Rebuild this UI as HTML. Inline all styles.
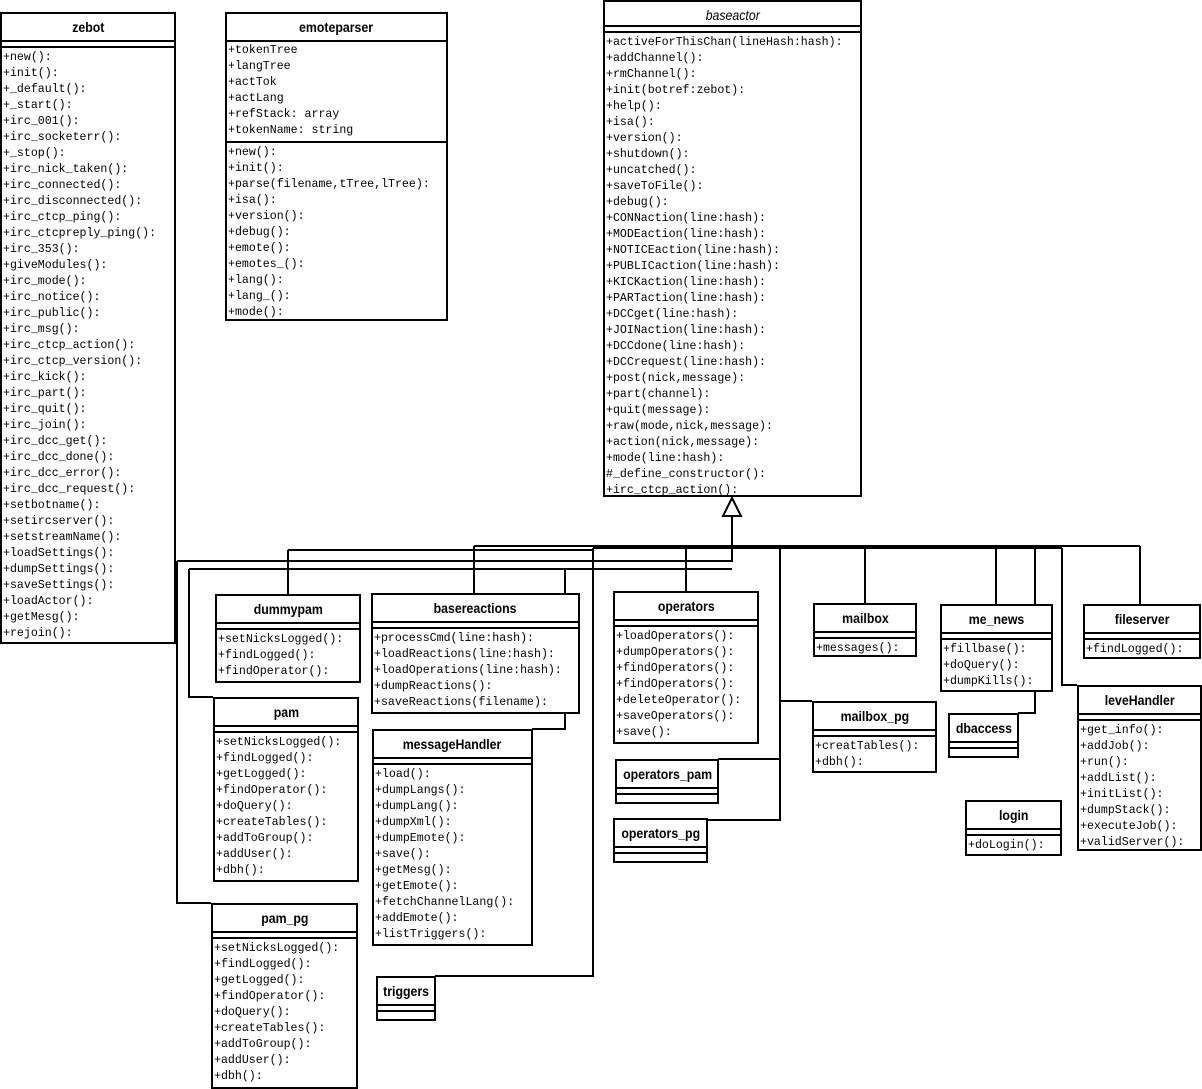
<!DOCTYPE html>
<html><head><meta charset="utf-8"><style>
body{margin:0;width:1202px;height:1087px;background:#fff;position:relative;overflow:hidden}
svg{position:absolute;left:0;top:0}
.b{position:absolute;border:2px solid #000;background:#fff;box-sizing:border-box}
.h{height:26px;text-align:center;font:bold 14px "Liberation Sans Narrow","Liberation Sans",sans-serif;line-height:27px;border-bottom:2px solid #000;white-space:nowrap}
.h span{display:inline-block;transform:scaleX(0.88)}
.h.i{font-style:italic;font-weight:normal}
.e{height:4px;border-bottom:2px solid #000}
.m{font:11.6px "Liberation Mono",monospace;line-height:16px;padding:2px 0 0 1px;white-space:pre}
.a{font:11.6px "Liberation Mono",monospace;line-height:16px;padding:1px 0 2px 1px;white-space:pre;border-bottom:2px solid #000}
</style></head><body>
<svg width="1202" height="1087" fill="none" stroke="#000" stroke-width="2">
<path d="M732 516V548"/>
<path d="M593 548H1062M474 546H1140M288 550H593"/>
<path d="M288 550V594M474 546V593"/>
<path d="M177 561H732V548M177 561V903H211"/>
<path d="M189 569H732M189 569V697H213"/>
<path d="M565 569V729H532"/>
<path d="M593 548V976H435"/>
<path d="M686 548V591"/>
<path d="M780 548V820H707M780 759H718M780 701H812"/>
<path d="M865 548V603M996 548V604M1140 546V604"/>
<path d="M1035 548V713H1018M1062 548V685H1077"/>
<polygon points="732,498 723,516 741,516" fill="#fff"/>
</svg>

<div class="b" style="left:0;top:12px;width:176px;height:632px"><div class="h"><span>zebot</span></div><div class="e"></div><div class="m">+new():
+init():
+_default():
+_start():
+irc_001():
+irc_socketerr():
+_stop():
+irc_nick_taken():
+irc_connected():
+irc_disconnected():
+irc_ctcp_ping():
+irc_ctcpreply_ping():
+irc_353():
+giveModules():
+irc_mode():
+irc_notice():
+irc_public():
+irc_msg():
+irc_ctcp_action():
+irc_ctcp_version():
+irc_kick():
+irc_part():
+irc_quit():
+irc_join():
+irc_dcc_get():
+irc_dcc_done():
+irc_dcc_error():
+irc_dcc_request():
+setbotname():
+setircserver():
+setstreamName():
+loadSettings():
+dumpSettings():
+saveSettings():
+loadActor():
+getMesg():
+rejoin():</div></div>

<div class="b" style="left:225px;top:12px;width:223px;height:309px"><div class="h"><span>emoteparser</span></div><div class="a">+tokenTree
+langTree
+actTok
+actLang
+refStack: array
+tokenName: string</div><div class="m">+new():
+init():
+parse(filename,tTree,lTree):
+isa():
+version():
+debug():
+emote():
+emotes_():
+lang():
+lang_():
+mode():</div></div>

<div class="b" style="left:603px;top:0;width:259px;height:497px"><div class="h i" style="height:23px;line-height:26px"><span>baseactor</span></div><div class="e"></div><div class="m">+activeForThisChan(lineHash:hash):
+addChannel():
+rmChannel():
+init(botref:zebot):
+help():
+isa():
+version():
+shutdown():
+uncatched():
+saveToFile():
+debug():
+CONNaction(line:hash):
+MODEaction(line:hash):
+NOTICEaction(line:hash):
+PUBLICaction(line:hash):
+KICKaction(line:hash):
+PARTaction(line:hash):
+DCCget(line:hash):
+JOINaction(line:hash):
+DCCdone(line:hash):
+DCCrequest(line:hash):
+post(nick,message):
+part(channel):
+quit(message):
+raw(mode,nick,message):
+action(nick,message):
+mode(line:hash):
#_define_constructor():
+irc_ctcp_action():</div></div>

<div class="b" style="left:215px;top:594px;width:146px;height:89px"><div class="h"><span>dummypam</span></div><div class="e"></div><div class="m">+setNicksLogged():
+findLogged():
+findOperator():</div></div>

<div class="b" style="left:371px;top:593px;width:209px;height:121px"><div class="h"><span>basereactions</span></div><div class="e"></div><div class="m">+processCmd(line:hash):
+loadReactions(line:hash):
+loadOperations(line:hash):
+dumpReactions():
+saveReactions(filename):</div></div>

<div class="b" style="left:613px;top:591px;width:146px;height:153px"><div class="h"><span>operators</span></div><div class="e"></div><div class="m">+loadOperators():
+dumpOperators():
+findOperators():
+findOperators():
+deleteOperator():
+saveOperators():
+save():</div></div>

<div class="b" style="left:813px;top:603px;width:104px;height:54px"><div class="h"><span>mailbox</span></div><div class="e"></div><div class="m">+messages():</div></div>

<div class="b" style="left:940px;top:604px;width:113px;height:88px"><div class="h"><span>me_news</span></div><div class="e"></div><div class="m">+fillbase():
+doQuery():
+dumpKills():</div></div>

<div class="b" style="left:1083px;top:604px;width:118px;height:55px"><div class="h"><span>fileserver</span></div><div class="e"></div><div class="m">+findLogged():</div></div>

<div class="b" style="left:213px;top:697px;width:146px;height:185px"><div class="h"><span>pam</span></div><div class="e"></div><div class="m">+setNicksLogged():
+findLogged():
+getLogged():
+findOperator():
+doQuery():
+createTables():
+addToGroup():
+addUser():
+dbh():</div></div>

<div class="b" style="left:372px;top:729px;width:161px;height:217px"><div class="h"><span>messageHandler</span></div><div class="e"></div><div class="m">+load():
+dumpLangs():
+dumpLang():
+dumpXml():
+dumpEmote():
+save():
+getMesg():
+getEmote():
+fetchChannelLang():
+addEmote():
+listTriggers():</div></div>

<div class="b" style="left:812px;top:701px;width:125px;height:72px"><div class="h"><span>mailbox_pg</span></div><div class="e"></div><div class="m">+creatTables():
+dbh():</div></div>

<div class="b" style="left:948px;top:713px;width:71px;height:45px"><div class="h"><span>dbaccess</span></div><div class="e"></div></div>

<div class="b" style="left:1077px;top:685px;width:125px;height:166px"><div class="h"><span>leveHandler</span></div><div class="e"></div><div class="m">+get_info():
+addJob():
+run():
+addList():
+initList():
+dumpStack():
+executeJob():
+validServer():</div></div>

<div class="b" style="left:615px;top:759px;width:104px;height:45px"><div class="h"><span>operators_pam</span></div><div class="e"></div></div>

<div class="b" style="left:613px;top:818px;width:95px;height:45px"><div class="h"><span>operators_pg</span></div><div class="e"></div></div>

<div class="b" style="left:965px;top:800px;width:97px;height:56px"><div class="h"><span>login</span></div><div class="e"></div><div class="m">+doLogin():</div></div>

<div class="b" style="left:211px;top:903px;width:147px;height:186px"><div class="h"><span>pam_pg</span></div><div class="e"></div><div class="m">+setNicksLogged():
+findLogged():
+getLogged():
+findOperator():
+doQuery():
+createTables():
+addToGroup():
+addUser():
+dbh():</div></div>

<div class="b" style="left:376px;top:976px;width:60px;height:45px"><div class="h"><span>triggers</span></div><div class="e"></div></div>
</body></html>
